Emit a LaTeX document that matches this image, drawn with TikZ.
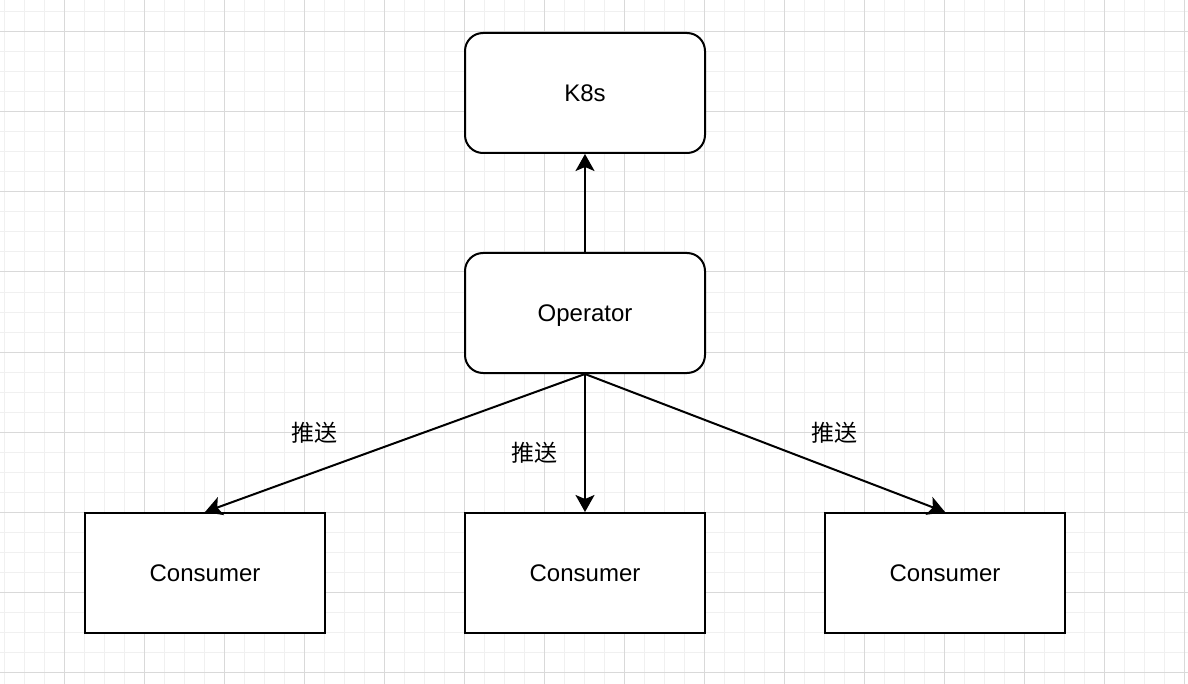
\documentclass[tikz,border=0pt]{standalone}
\usepackage{fontspec}
\setmainfont{Liberation Sans}
\newfontfamily\cjk{Noto Sans CJK SC}
\usetikzlibrary{arrows.meta}

\begin{document}
\begin{tikzpicture}[x=0.5pt,y=-0.5pt,
  minorgrid/.style={line width=0.5pt, color=black!6},
  majorgrid/.style={line width=0.5pt, color=black!15},
  rbox/.style={draw, line width=1pt, rounded corners=9pt, fill=white,
    minimum width=120pt, minimum height=60pt, inner sep=0pt,
    text height=10.5pt, text depth=2pt,
    font=\fontsize{12}{14}\selectfont},
  box/.style={rbox, sharp corners},
  link/.style={line width=1pt, -{Stealth[length=8.5pt,width=9.5pt,inset=2pt]}},
  lbl/.style={font=\cjk\fontsize{11.5}{14}\selectfont}]
\useasboundingbox (0,0) rectangle (1188,684);
\fill [white] (0,0) rectangle (1188,684);
% grid
\foreach \x in {4,24,...,1184} \draw [minorgrid] (\x,0) -- (\x,684);
\foreach \y in {12,32,...,672} \draw [minorgrid] (0,\y) -- (1188,\y);
\foreach \x in {64,144,...,1184} \draw [majorgrid] (\x,0) -- (\x,684);
\foreach \y in {32,112,...,672} \draw [majorgrid] (0,\y) -- (1188,\y);

\node [rbox] (k8s) at (585,93) {K8s};
\node [rbox] (op) at (585,313) {Operator};
\node [box] (cons1) at (205,573) {Consumer};
\node [box] (cons2) at (585,573) {Consumer};
\node [box] (cons3) at (945,573) {Consumer};

\draw [link] (op.north) -- (k8s.south);
\draw [link] (op.south) -- (cons1.north);
\draw [link] (op.south) -- (cons2.north);
\draw [link] (op.south) -- (cons3.north);

\node [lbl] (push1) at (314,433) {推送};
\node [lbl] (push2) at (534,453) {推送};
\node [lbl] (push3) at (834,433) {推送};

\end{tikzpicture}
\end{document}
